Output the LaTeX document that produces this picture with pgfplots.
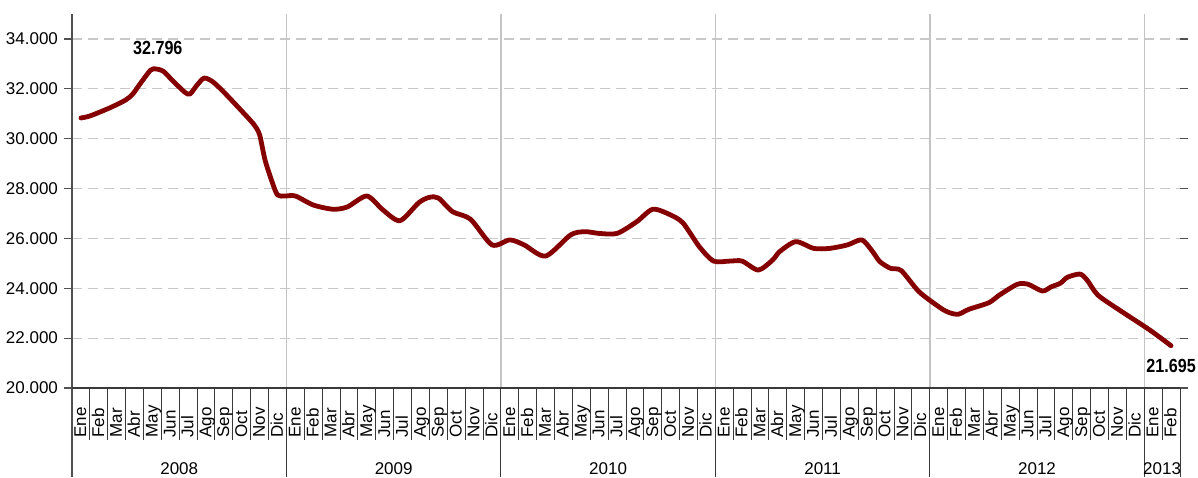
\documentclass[border=0pt]{standalone}
\usepackage{fontspec}
\setmainfont{Liberation Sans}
\newfontfamily\narrow{Liberation Sans}[FakeStretch=0.85]
\usepackage{pgfplots}
\pgfplotsset{compat=1.18}
\definecolor{serie}{HTML}{850000}
\definecolor{gridh}{HTML}{C8C8C8}
\definecolor{gridv}{HTML}{C4C4C4}
\definecolor{axisc}{HTML}{505050}
\definecolor{sepc}{HTML}{3A3A3A}

\begin{document}
\begin{tikzpicture}
  \def\mw{8.93548pt}% width of one month slot (554pt / 62)
  \path[use as bounding box] (-36pt,-44.5pt) rectangle (563pt,194pt);
  \begin{axis}[
      at={(0,0)}, anchor=south west,
      scale only axis, width=554pt, height=187pt,
      xmin=-0.5, xmax=61.5,
      ymin=20000, ymax=35000,
      clip=false,
      axis line style={draw=none},
      xtick=\empty,
      extra x ticks={11.5,23.5,35.5,47.5,59.5},
      extra x tick labels={},
      extra x tick style={grid=major, major grid style={solid, draw=gridv, line width=0.7pt}, major tick length=0pt},
      ytick={20000,22000,...,34000},
      ymajorgrids,
      y grid style={draw=gridh, line width=0.6pt, dash pattern=on 5pt off 3pt},
      tick align=outside,
      major tick length=4pt,
      ytick style={draw=axisc, line width=0.6pt},
      scaled y ticks=false,
      yticklabel style={font=\fontsize{8.5}{10}\selectfont, text=black, xshift=0.5pt},
      /pgf/number format/.cd, 1000 sep={.}, assume math mode=true,
    ]
    \addplot[serie, line width=2.4pt, smooth, tension=0.45, line join=round, line cap=round] coordinates {
      (0,30830) (0.5,30910) (1.6,31230) (2.5,31550) (2.9,31790) (3.3,32190)
      (3.9,32750) (4.2,32796) (4.6,32710) (5.1,32350) (5.8,31870) (6.1,31790)
      (6.5,32150) (6.9,32430) (7.4,32270) (8.1,31790) (9.1,31030) (9.7,30550)
      (10.0,30150) (10.3,29150) (10.7,28260) (11.0,27740) (11.4,27700) (12.0,27700)
      (13.0,27340) (14.1,27170) (14.9,27260) (16.0,27700) (16.9,27140) (17.85,26710)
      (18.9,27430) (19.5,27650) (20.0,27620) (20.8,27070) (21.8,26770) (23.0,25740)
      (24.0,25940) (24.8,25740) (26.0,25290) (27.4,26140) (28.2,26270) (29.0,26200)
      (30.0,26200) (31.1,26670) (32.0,27170) (33.0,26940) (33.7,26610) (34.6,25670)
      (35.4,25090) (36.3,25090) (37.0,25090) (37.9,24730) (38.7,25130) (39.1,25470)
      (40.0,25870) (41.0,25600) (41.9,25600) (42.9,25740) (43.7,25940) (44.3,25470)
      (44.7,25070) (45.3,24800) (45.9,24710) (46.9,23860) (48.1,23210) (48.6,23020)
      (49.1,22960) (49.7,23160) (50.8,23420) (51.4,23730) (52.4,24160) (53.0,24160)
      (53.8,23890) (54.3,24060) (54.8,24200) (55.2,24440) (55.9,24570) (56.3,24330)
      (56.9,23730) (58.1,23130) (59.8,22330) (61.0,21695)
    };
    \node[anchor=base, yshift=7pt, font=\narrow\bfseries\fontsize{9.5}{11}\selectfont] at (axis cs:4.3,32796) {32.796};
    \node[anchor=base, yshift=-13.5pt, font=\narrow\bfseries\fontsize{9.5}{11}\selectfont] at (axis cs:61,21695) {21.695};
  \end{axis}
  % axis lines
  \draw[axisc, line width=0.7pt] (0,-44.5pt) -- (0,187pt);
  \draw[sepc, line width=0.6pt] (0,0) -- (62*\mw,0);
  % month separators
  \foreach \k in {1,...,62} \draw[sepc, line width=0.5pt] (\k*\mw,0) -- (\k*\mw,-26pt);
  % year separators
  \foreach \k in {12,24,36,48,60,62} \draw[sepc, line width=0.5pt] (\k*\mw,0) -- (\k*\mw,-44.5pt);
  % month labels
  \foreach \m [count=\i from 0] in {Ene,Feb,Mar,Abr,May,Jun,Jul,Ago,Sep,Oct,Nov,Dic,
      Ene,Feb,Mar,Abr,May,Jun,Jul,Ago,Sep,Oct,Nov,Dic,
      Ene,Feb,Mar,Abr,May,Jun,Jul,Ago,Sep,Oct,Nov,Dic,
      Ene,Feb,Mar,Abr,May,Jun,Jul,Ago,Sep,Oct,Nov,Dic,
      Ene,Feb,Mar,Abr,May,Jun,Jul,Ago,Sep,Oct,Nov,Dic,
      Ene,Feb}
    \node[rotate=90, anchor=mid west, inner sep=0pt, font=\fontsize{8.5}{10}\selectfont] at ({(\i+0.5)*\mw},-25pt) {\m};
  % year labels
  \foreach \y [count=\i from 0] in {2008,2009,2010,2011,2012}
    \node[anchor=base, inner sep=0pt, font=\fontsize{8.5}{10}\selectfont] at ({(12*\i+6)*\mw},-43.3pt) {\y};
  \node[anchor=base, inner sep=0pt, font=\fontsize{8.5}{10}\selectfont] at ({61*\mw},-43.3pt) {2013};
\end{tikzpicture}
\end{document}
